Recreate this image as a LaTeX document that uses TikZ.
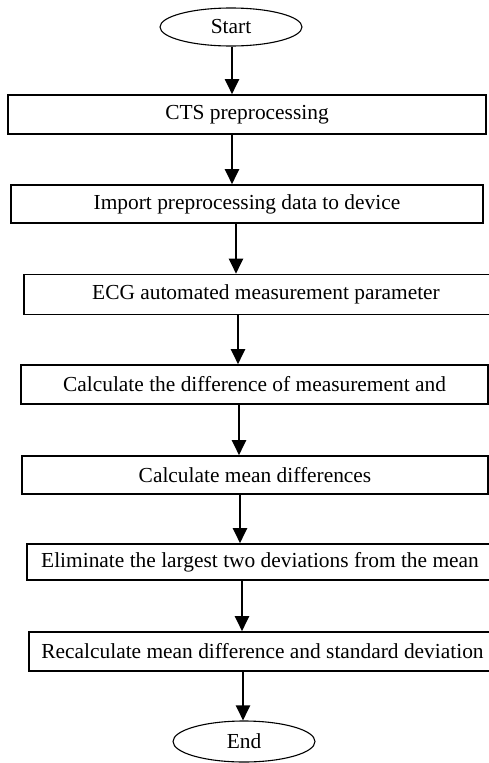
\documentclass[tikz,border=0pt]{standalone}
\usepackage{fontspec}
\setmainfont{Liberation Serif}
\usetikzlibrary{arrows.meta, shapes.geometric, positioning}

\begin{document}
\begin{tikzpicture}[x=1pt, y=-1pt, >={Triangle[width=14pt,length=15pt]},
  box/.style={draw, line width=1.6pt, inner sep=0pt, font=\fontsize{21.4}{25}\selectfont},
  term/.style={draw, ellipse, line width=1.1pt, inner sep=0pt, minimum width=142pt, font=\fontsize{21.4}{25}\selectfont},
  flow/.style={->, line width=2pt}]
  % page frame
  \clip (0,0) rectangle (489,763);
  % start and end
  \node[term, minimum height=38pt] (start) at (231,27) {Start};
  \node[term, minimum height=41pt] (end) at (244,741.5) {End};
  % steps
  \node[box, minimum width=478pt, minimum height=39pt] (cts) at (247,114.5) {CTS preprocessing};
  \node[box, minimum width=472pt, minimum height=38pt] (import) at (247,204) {Import preprocessing data to device};
  \node[box, minimum width=484pt, minimum height=40pt] (ecg) at (266,294.5) {ECG automated measurement parameter};
  \node[box, minimum width=467pt, minimum height=39pt] (diff) at (254.5,384.5) {Calculate the difference of measurement and};
  \node[box, minimum width=466pt, minimum height=38pt] (mean) at (255,475) {Calculate mean differences};
  \node[box, minimum width=466pt, minimum height=36pt] (elim) at (260,562) {Eliminate the largest two deviations from the mean};
  \node[box, minimum width=467pt, minimum height=39pt] (recalc) at (262.5,651.5) {Recalculate mean difference and standard deviation};
  % arrows
  \draw[flow] (start.south -| 232,0) -- (cts.north -| 232,0);
  \draw[flow] (cts.south -| 232,0) -- (import.north -| 232,0);
  \draw[flow] (import.south -| 236,0) -- (ecg.north -| 236,0);
  \draw[flow] (ecg.south -| 238,0) -- (diff.north -| 238,0);
  \draw[flow] (diff.south -| 239,0) -- (mean.north -| 239,0);
  \draw[flow] (mean.south -| 240,0) -- (elim.north -| 240,0);
  \draw[flow] (elim.south -| 242,0) -- (recalc.north -| 242,0);
  \draw[flow] (recalc.south -| 243,0) -- (end.north -| 243,0);
\end{tikzpicture}
\end{document}
